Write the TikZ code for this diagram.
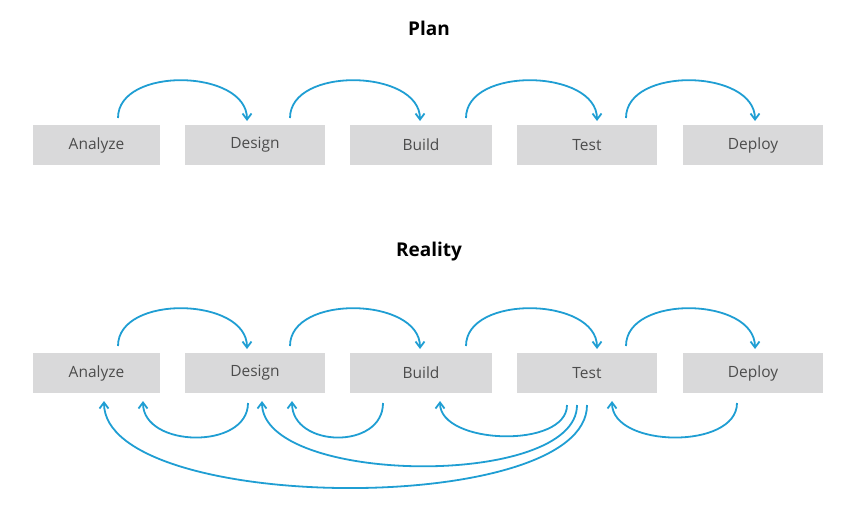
\documentclass[tikz,border=0pt]{standalone}
\usepackage{fontspec}
\setmainfont{Open Sans}
\usetikzlibrary{arrows.meta}
\definecolor{arr}{HTML}{1F9ED3}
\definecolor{boxc}{HTML}{D9D9DA}
\begin{document}
\begin{tikzpicture}[x=1pt,y=-1pt,
 box/.style={fill=boxc,minimum height=40pt,inner sep=0pt,font=\fontsize{15.5}{18}\selectfont,text=black!70},
 ttl/.style={font=\bfseries\fontsize{19}{22}\selectfont},
 ar/.style={draw=arr,line width=1.8pt,-{Straight Barb[length=6pt,width=9pt]}}]
\useasboundingbox (0,0) rectangle (860,522);
\node[ttl] (plan) at (429,28) {Plan};
\node[ttl] (real) at (429,252) {Reality};
\foreach \r/\y in {p/145,r/373}{
 \node[box,minimum width=127pt] (A\r) at (96.5,\y) {Analyze};
 \node[box,minimum width=140pt] (D\r) at (255,\y) {Design};
 \node[box,minimum width=142pt] (B\r) at (421,\y) {Build};
 \node[box,minimum width=140pt] (T\r) at (587,\y) {Test};
 \node[box,minimum width=140pt] (P\r) at (753,\y) {Deploy};
}
\foreach \r/\y in {p/0,r/228}{
 \coordinate (a1\r) at (118,118+\y); \coordinate (b1\r) at (247,121+\y);
 \coordinate (a2\r) at (290,118+\y); \coordinate (b2\r) at (420,121+\y);
 \coordinate (a3\r) at (466,118+\y); \coordinate (b3\r) at (597,121+\y);
 \coordinate (a4\r) at (626,118+\y); \coordinate (b4\r) at (755,121+\y);
 \foreach \i in {1,2,3,4}{
  \draw[ar] (a\i\r) .. controls +(0,-52) and +(0,-52) .. (b\i\r);
 }
}
\coordinate (s1) at (248,403); \coordinate (e1) at (143,401);
\coordinate (s2) at (383,403); \coordinate (e2) at (292,401);
\coordinate (s3) at (567,405); \coordinate (e3) at (440,401);
\coordinate (s4) at (577,405); \coordinate (e4) at (262,401);
\coordinate (s5) at (587,405); \coordinate (e5) at (104,401);
\coordinate (s6) at (737,403); \coordinate (e6) at (612,401);
\draw[ar] (s1) .. controls +(0,47) and +(0,47) .. (e1);
\draw[ar] (s2) .. controls +(0,47) and +(0,47) .. (e2);
\draw[ar] (s3) .. controls +(0,44) and +(0,44) .. (e3);
\draw[ar] (s4) .. controls +(0,84) and +(0,84) .. (e4);
\draw[ar] (s5) .. controls +(0,113) and +(0,113) .. (e5);
\draw[ar] (s6) .. controls +(0,47) and +(0,47) .. (e6);
\end{tikzpicture}
\end{document}
